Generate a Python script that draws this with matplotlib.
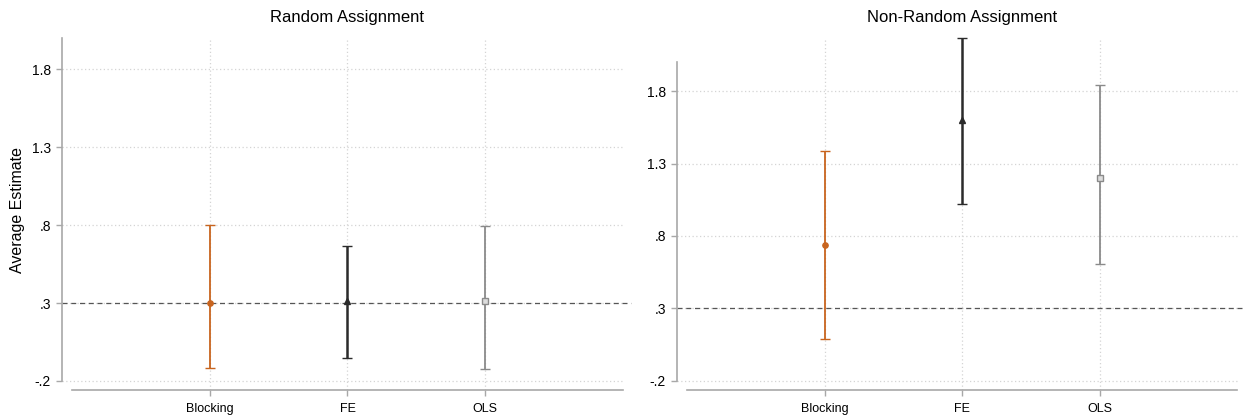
import numpy as np
import matplotlib
matplotlib.use('Agg')
import matplotlib.pyplot as plt

plt.rcParams['font.family'] = ['Liberation Sans', 'DejaVu Sans']

methods = ['Blocking', 'FE', 'OLS']
colors = ['#c8641e', '#2b2b2b', '#8a8a8a']
markers = ['o', '^', 's']

# Random assignment
rand_est = [0.30, 0.315, 0.313]
rand_lo = [-0.115, -0.05, -0.125]
rand_hi = [0.801, 0.668, 0.797]

# Non-random assignment
nonrand_est = [0.739, 1.60, 1.202]
nonrand_lo = [0.088, 1.022, 0.608]
nonrand_hi = [1.388, 2.165, 1.840]

yticks = [-0.2, 0.3, 0.8, 1.3, 1.8]
ytick_labels = ['-.2', '.3', '.8', '1.3', '1.8']
true_value = 0.3

axis_gray = '#a8a8a8'
grid_gray = '#d4d4d4'


def draw_panel(ax, est, lo, hi, title, ylim):
    x = np.arange(1, len(methods) + 1)
    ax.set_xlim(0, 4)
    ax.set_ylim(*ylim)

    for yv in yticks:
        ax.axhline(yv, xmin=-0.018, xmax=1.0, color=grid_gray, lw=0.9,
                   ls=(0, (1, 2)), clip_on=False, zorder=0)
    for xv in x:
        ax.axvline(xv, color=grid_gray, lw=0.9, ls=(0, (1, 2)), zorder=0)

    ax.axhline(true_value, xmin=-0.018, xmax=1.015, color='#555555', lw=0.9,
               ls=(0, (4, 3)), clip_on=False, zorder=1)

    for i in range(len(methods)):
        lw = 1.8 if methods[i] == 'FE' else 1.3
        face = '#dddddd' if markers[i] == 's' else colors[i]
        ax.errorbar(x[i], est[i],
                    yerr=[[est[i] - lo[i]], [hi[i] - est[i]]],
                    fmt=markers[i], color=colors[i], ecolor=colors[i],
                    mfc=face, mec=colors[i], ms=3.8, mew=1.0,
                    elinewidth=lw, capsize=3.5, capthick=lw,
                    clip_on=False, zorder=3)

    ax.set_xticks(x)
    ax.set_xticklabels(methods, fontsize=9)
    ax.set_yticks(yticks)
    ax.set_yticklabels(ytick_labels, fontsize=8.5)
    ax.tick_params(axis='both', colors=axis_gray, labelcolor='black',
                   length=4, width=1.0, pad=4)
    ax.tick_params(axis='x', pad=5)

    for s in ['top', 'right']:
        ax.spines[s].set_visible(False)
    ax.spines['left'].set_position(('outward', 7.2))
    ax.spines['left'].set_bounds(-0.2, 2.0)
    ax.spines['left'].set_color(axis_gray)
    ax.spines['left'].set_linewidth(1.2)
    ax.spines['bottom'].set_color(axis_gray)
    ax.spines['bottom'].set_linewidth(1.2)

    ax.set_title(title, fontsize=12, pad=0, y=1.045)


fig = plt.figure(figsize=(12.45, 4.19), dpi=100)
ax1 = fig.add_axes([0.0578, 0.0692, 0.4426, 0.8401])
ax2 = fig.add_axes([0.5518, 0.0692, 0.4418, 0.8401])

draw_panel(ax1, rand_est, rand_lo, rand_hi, 'Random Assignment', (-0.258, 2.0))
draw_panel(ax2, nonrand_est, nonrand_lo, nonrand_hi, 'Non-Random Assignment',
           (-0.264, 2.167))

fig.text(18 / 1245, 1 - 210 / 419, 'Average Estimate', rotation=90,
         ha='center', va='center', fontsize=11.5)

fig.savefig('out.png', dpi=100)
plt.close()
